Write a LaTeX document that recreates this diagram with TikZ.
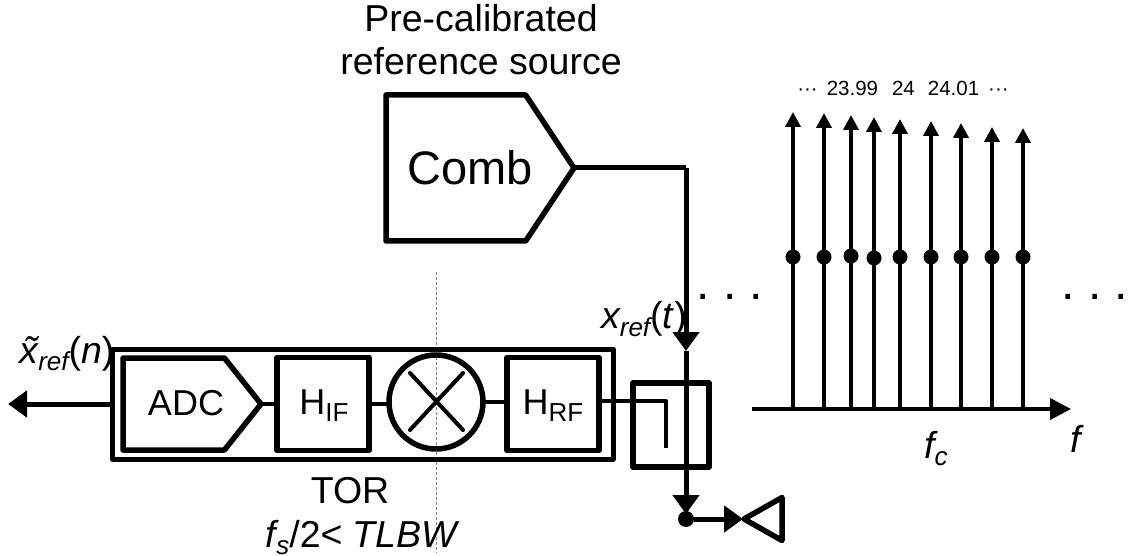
\documentclass[tikz,border=0pt]{standalone}
\usepackage{fontspec}
\setmainfont{Liberation Sans}
\usetikzlibrary{arrows.meta}
\usetikzlibrary{positioning}
\usetikzlibrary{shapes.symbols,shapes.geometric}
\newcommand{\subtxt}[1]{\raisebox{-7pt}[0pt][0pt]{\fontsize{26}{26}\selectfont #1}}
\begin{document}
\begin{tikzpicture}[x=1pt, y=-1pt, line cap=butt, line join=round]
		
		% Styles
		\tikzset{
			lbl/.style={inner sep=0pt, anchor=base, align=center, font=\fontsize{37.5}{43}\selectfont},
			box/.style={draw=black, line width=5.5pt, inner sep=0pt, outer sep=0pt},
			block/.style={box, minimum width=92pt, minimum height=93pt},
			dac/.style={box, signal, signal to=east},
			wire/.style={draw=black, line width=4pt},
			feed/.style={draw=black, line width=5pt},
			arrFeed/.style={feed, -{Triangle[length=19pt, width=26pt]}},
			arrTone/.style={draw=black, line width=4pt, -{Triangle[length=15pt, width=15pt]}},
			spot/.style={circle, fill=black, inner sep=0pt, outer sep=0pt, minimum size=15pt}
		}
		
		\useasboundingbox (0,0) rectangle (1128,556);
		
		% Split line behind everything
		\coordinate (cutTop) at (436,272);
		\coordinate (cutBot) at (436,553);
		\draw[gray, line width=0.8pt, densely dashed] (cutTop) -- (cutBot);
		
		% Nodes
		\node[dac, signal pointer angle=113, minimum width=188pt, minimum height=146pt, anchor=east] (comb) at (574,168) {};
		\node[lbl, font=\fontsize{47}{47}\selectfont] (combTxt) at (470,185) {Comb};
		\node[lbl] (srcTxt) at (481,75) {Pre-calibrated\\reference source};
		
		\node[box, line width=5pt, minimum width=501pt, minimum height=110pt, anchor=north west] (tor) at (112,349) {};
		\node[dac, signal pointer angle=103, minimum width=138pt, minimum height=92pt, anchor=east] (adc) at (261,404) {};
		\node[lbl, font=\fontsize{36}{42}\selectfont] (adcTxt) at (186,415) {ADC};
		\node[block, anchor=west] (hif) at (277,404) {};
		\node[lbl, font=\fontsize{36}{42}\selectfont] (hifTxt) at (324,414) {H\subtxt{IF}};
		\node[box, circle, minimum size=94pt] (mix) at (436,402) {};
		\node[block, anchor=west] (hrf) at (507,404) {};
		\node[lbl, font=\fontsize{36}{42}\selectfont] (hrfTxt) at (553,414) {H\subtxt{RF}};
		\node[box, minimum width=76pt, minimum height=84pt, anchor=north west] (cpl) at (633,383) {};
		
		\node[spot, minimum size=16pt] (tap) at (686,519) {};
		\node[box, isosceles triangle, isosceles triangle apex angle=59, shape border rotate=180,
			minimum height=38pt, minimum width=34pt, anchor=apex] (load) at (744,519) {};
		
		\node[lbl] (torTxt) at (350,503) {TOR};
		\node[lbl] (bwTxt) at (363,547) {\textit{f\subtxt{s}}/2\textless{} \textit{TLBW}};
		\node[lbl] (outTxt) at (67,363) {\textit{\~x\subtxt{ref}}(\textit{n})};
		\node[lbl] (refTxt) at (644,329) {\textit{x\subtxt{ref}}(\textit{t})};
		
		\coordinate (outEnd) at (8,404);
		\coordinate (feedTurn) at (686,168);
		\coordinate (feedTip) at (686,351);
		\coordinate (tapTip) at (686,514);
		\coordinate (mixA) at (410,373);
		\coordinate (mixB) at (463,430);
		\coordinate (mixC) at (463,373);
		\coordinate (mixD) at (410,430);
		\coordinate (cplTurn) at (666,401);
		\coordinate (cplEnd) at (666,448);
		
		% Arrows
		\draw[arrFeed] (tor.west |- adc.east) -- (outEnd);
		\draw[wire] (adc.east) -- (hif.west);
		\draw[wire] (hif.east) -- (hif.east -| mix.west);
		\draw[wire] (mix.east) -- (mix.east -| hrf.west);
		\draw[wire, line cap=round] (mixA) -- (mixB);
		\draw[wire, line cap=round] (mixC) -- (mixD);
		\draw[wire] (hrf.east |- cplTurn) -- (cplTurn) -- (cplEnd);
		
		\draw[feed] (comb.east) -- (feedTurn);
		\draw[arrFeed] (feedTurn) -- (feedTip);
		\draw[feed] (feedTip) -- (cpl.north -| feedTip);
		\draw[feed] (cpl.north -| feedTip) -- (cpl.south -| feedTip);
		\draw[arrFeed] (cpl.south -| feedTip) -- (tapTip);
		\draw[arrFeed, shorten >=1pt] (tap) -- (load.apex);
		
		% Spectrum
		\coordinate (axisL) at (752,409);
		\coordinate (axisR) at (1071,409);
		\draw[draw=black, line width=4pt, -{Triangle[length=21pt, width=21pt]}] (axisL) -- (axisR);
		\foreach \i/\fx/\fy/\fm in {1/793/112/257, 2/824/113/257, 3/851/115/256, 4/874/117/258,
			5/900/119/257, 6/931/121/257, 7/961/123/257, 8/992/127/257, 9/1023/128/257} {
			\node[spot] (tone\i) at (\fx,\fm) {};
			\coordinate (base\i) at (\fx,409);
			\coordinate (peak\i) at (\fx,\fy);
			\draw[arrTone] (base\i) -- (peak\i);
		}
		
		\node[lbl, font=\fontsize{20.5}{20.5}\selectfont] (freqTxt) at (903,96)
		{\textperiodcentered\textperiodcentered\textperiodcentered\hspace{9pt}23.99\hspace{14pt}24\hspace{13pt}24.01\hspace{9pt}\textperiodcentered\textperiodcentered\textperiodcentered};
		\node[lbl, font=\fontsize{48}{48}\selectfont] (dotsL) at (730,300) {.\ .\ .};
		\node[lbl, font=\fontsize{48}{48}\selectfont] (dotsR) at (1095,300) {.\ .\ .};
		\node[lbl] (fcTxt) at (936,458) {\textit{f\subtxt{c}}};
		\node[lbl] (fTxt) at (1077,452) {\textit{f}};
		
	\end{tikzpicture}
\end{document}
